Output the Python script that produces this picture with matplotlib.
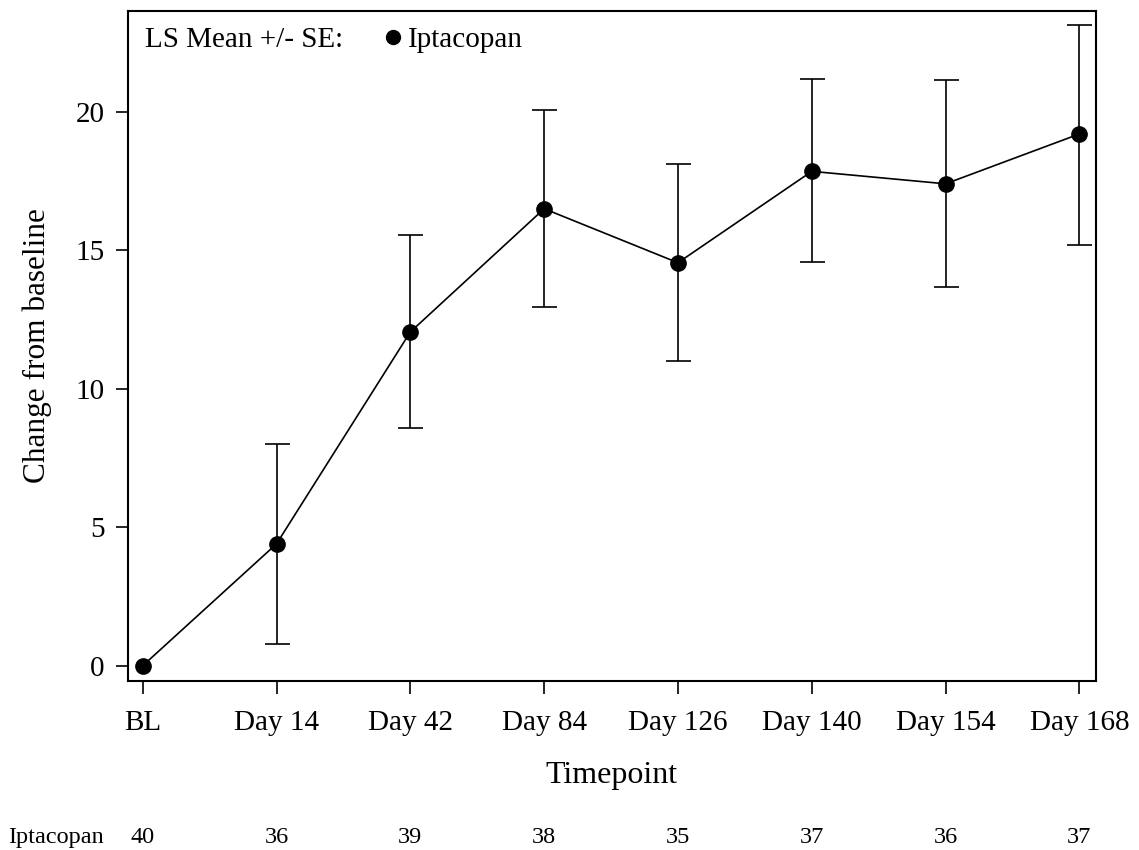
import numpy as np
import matplotlib.pyplot as plt
from matplotlib.lines import Line2D
from matplotlib.transforms import blended_transform_factory

plt.rcParams['font.family'] = ['Liberation Serif', 'DejaVu Serif']

timepoints = ["BL", "Day 14", "Day 42", "Day 84", "Day 126", "Day 140", "Day 154", "Day 168"]
ls_mean = [0.0, 4.4, 12.05, 16.5, 14.55, 17.85, 17.4, 19.2]
lower = [0.0, 0.8, 8.58, 12.95, 11.02, 14.57, 13.66, 15.2]
upper = [0.0, 8.0, 15.55, 20.08, 18.1, 21.2, 21.15, 23.15]
n_at_risk = [40, 36, 39, 38, 35, 37, 36, 37]
group = "Iptacopan"

x = np.arange(len(timepoints))
mean = np.array(ls_mean)
err = np.vstack([mean - np.array(lower), np.array(upper) - mean])
has_err = err.sum(axis=0) > 0

fig = plt.figure(figsize=(11.39, 8.5), dpi=100)
ax = fig.add_axes([0.1126, 0.1992, 0.8494, 0.7882])

# error bars (none at baseline)
ax.errorbar(x[has_err], mean[has_err], yerr=err[:, has_err], fmt='none',
            ecolor='black', elinewidth=1.2, capsize=9, capthick=1.2)
ax.plot(x, mean, color='black', lw=1.2, marker='o', ms=11)

ax.set_xlim(-0.108, 7.122)
ax.set_ylim(-0.54, 23.65)
ax.set_xticks(x)
ax.set_xticklabels(timepoints)
ax.set_yticks([0, 5, 10, 15, 20])
ax.tick_params(labelsize=21, length=9, width=1.2)
ax.tick_params(axis='x', pad=12)
ax.tick_params(axis='y', pad=8)
for s in ax.spines.values():
    s.set_linewidth(1.5)

ax.set_xlabel("Timepoint", fontsize=23, labelpad=18)
ax.set_ylabel("Change from baseline", fontsize=22.5, labelpad=17)

# legend
ax.text(0.017, 0.957, "LS Mean +/- SE:", transform=ax.transAxes, fontsize=21,
        va='center', ha='left')
handle = Line2D([], [], color='black', marker='o', ls='none', ms=10)
ax.legend([handle], [group], loc='center left', bbox_to_anchor=(0.26, 0.957),
          frameon=False, fontsize=21, handletextpad=0.05, borderpad=0,
          handlelength=0.9, borderaxespad=0)

# number of subjects under each timepoint
trans = blended_transform_factory(ax.transData, ax.transAxes)
for xi, n in zip(x, n_at_risk):
    ax.text(xi, -0.2345, str(n), transform=trans, ha='center', va='center',
            fontsize=17.5, clip_on=False)
fig.text(0.007, 1 - 838 / 850, group, ha='left', va='center', fontsize=17.5)

fig.savefig("out.png", dpi=100)
